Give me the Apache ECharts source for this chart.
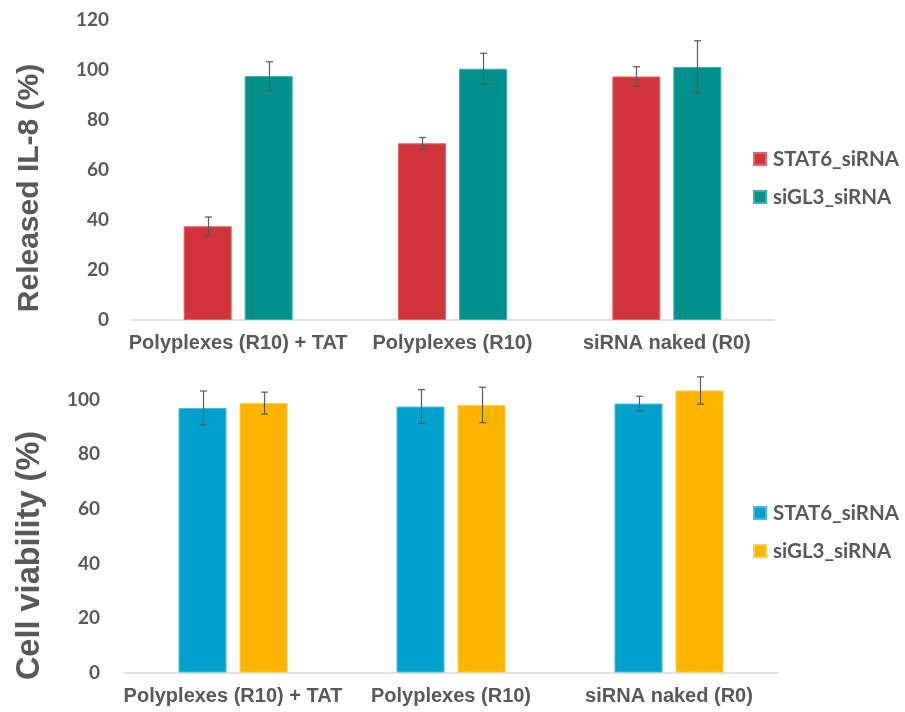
<!DOCTYPE html>
<html>
<head>
<meta charset="utf-8">
<script src="https://cdn.jsdelivr.net/npm/echarts@6/dist/echarts.min.js"></script>
<style>
  html, body { margin: 0; padding: 0; background: #ffffff; }
  #il8 { position: absolute; left: 0; top: 0; width: 905px; height: 362px; }
  #viab { position: absolute; left: 0; top: 362px; width: 905px; height: 350px; }
</style>
</head>
<body>
<div id="il8"></div>
<div id="viab"></div>
<script>
// Treatment groups shared by both panels
const categories = ['Polyplexes (R10) + TAT', 'Polyplexes (R10)', 'siRNA naked (R0)'];
const seriesNames = ['STAT6_siRNA', 'siGL3_siRNA'];

// Released IL-8 (%) — mean and error (±)
const il8Stat6 = [37.5, 70.7, 97.4];
const il8Stat6Err = [3.7, 2.3, 3.9];
const il8Sigl3 = [97.6, 100.5, 101.2];
const il8Sigl3Err = [5.7, 6.2, 10.5];

// Cell viability (%) — mean and error (±)
const viabStat6 = [97.0, 97.5, 98.6];
const viabStat6Err = [6.2, 6.2, 2.7];
const viabSigl3 = [98.8, 98.1, 103.4];
const viabSigl3Err = [4.0, 6.5, 5.0];

// Y-axis ticks
const il8Ticks = { min: 0, max: 120, interval: 20 };
const viabTicks = { min: 0, max: 110, interval: 20 };

const GREY = '#595959';
const BAR_W = 48;
const BAR_GAP_PX = 13;

function errorSeries(name, values, errs, side) {
  const offset = side * (BAR_W + BAR_GAP_PX) / 2;
  return {
    type: 'custom',
    name: name + ' error',
    silent: true,
    z: 5,
    data: values.map((v, i) => [i, v, errs[i]]),
    renderItem: function (params, api) {
      const i = api.value(0);
      const v = api.value(1);
      const e = api.value(2);
      const hi = api.coord([i, v + e]);
      const lo = api.coord([i, v - e]);
      const x = Math.round(hi[0] + offset) + 0.5;
      const cap = 3.5;
      const style = { stroke: GREY, lineWidth: 1.2 };
      return {
        type: 'group',
        children: [
          { type: 'line', shape: { x1: x, y1: hi[1], x2: x, y2: lo[1] }, style },
          { type: 'line', shape: { x1: x - cap, y1: hi[1], x2: x + cap, y2: hi[1] }, style },
          { type: 'line', shape: { x1: x - cap, y1: lo[1], x2: x + cap, y2: lo[1] }, style }
        ]
      };
    }
  };
}

function panel(opts) {
  return {
    animation: false,
    backgroundColor: '#ffffff',
    grid: opts.grid,
    legend: {
      orient: 'vertical',
      left: 748,
      top: opts.legendTop,
      itemWidth: 12,
      itemHeight: 12,
      itemGap: 17,
      icon: 'rect',
      data: seriesNames,
      textStyle: { fontFamily: 'Lato', fontWeight: 'bold', fontSize: 20.5, color: GREY, padding: [0, 0, 0, 2] }
    },
    xAxis: {
      type: 'category',
      data: categories,
      axisLine: { lineStyle: { color: '#d9d9d9', width: 1.5 } },
      axisTick: { show: false },
      axisLabel: { fontFamily: 'Liberation Sans', fontWeight: 'bold', fontSize: 20, color: GREY, margin: opts.catMargin, interval: 0 }
    },
    yAxis: {
      type: 'value',
      min: opts.ticks.min,
      max: opts.ticks.max,
      interval: opts.ticks.interval,
      name: opts.yName,
      nameLocation: 'middle',
      nameGap: opts.nameGap,
      nameTextStyle: { fontFamily: 'Liberation Sans', fontWeight: 'bold', fontSize: opts.nameSize, color: GREY, padding: opts.namePad },
      splitLine: { show: false },
      axisLine: { show: false },
      axisTick: { show: false },
      axisLabel: { fontFamily: 'Lato', fontWeight: 'bold', fontSize: 19, color: GREY, margin: opts.valMargin, showMaxLabel: opts.showMax }
    },
    series: [
      {
        type: 'bar', name: seriesNames[0], data: opts.a,
        barWidth: BAR_W, barGap: (BAR_GAP_PX / BAR_W * 100) + '%',
        itemStyle: { color: opts.colors[0], borderColor: opts.borders[0], borderWidth: 1 }
      },
      {
        type: 'bar', name: seriesNames[1], data: opts.b,
        barWidth: BAR_W,
        itemStyle: { color: opts.colors[1], borderColor: opts.borders[1], borderWidth: 1 }
      },
      errorSeries(seriesNames[0], opts.a, opts.aErr, -1),
      errorSeries(seriesNames[1], opts.b, opts.bErr, 1)
    ]
  };
}

const il8Chart = echarts.init(document.getElementById('il8'), null, { renderer: 'canvas' });
il8Chart.setOption(panel({
  grid: { left: 131, right: 131, top: 20, height: 300 },
  legendTop: 143.5,
  ticks: il8Ticks,
  showMax: true,
  yName: 'Released IL-8 (%)',
  nameSize: 30,
  nameGap: 86,
  namePad: [0, 36, 0, 0],
  catMargin: 13,
  valMargin: 22,
  a: il8Stat6, aErr: il8Stat6Err,
  b: il8Sigl3, bErr: il8Sigl3Err,
  colors: ['#d1343a', '#00918d'],
  borders: ['#e0676b', '#3cb0ab']
}));

const viabChart = echarts.init(document.getElementById('viab'), null, { renderer: 'canvas' });
viabChart.setOption(panel({
  grid: { left: 124, right: 127, top: 10.5, height: 300 },
  legendTop: 135.5,
  ticks: viabTicks,
  showMax: false,
  yName: 'Cell viability (%)',
  nameSize: 32.5,
  nameGap: 77,
  namePad: [0, 66, 0, 0],
  catMargin: 14,
  valMargin: 24,
  a: viabStat6, aErr: viabStat6Err,
  b: viabSigl3, bErr: viabSigl3Err,
  colors: ['#00a0cd', '#ffb400'],
  borders: ['#47bde0', '#ffcb4d']
}));
</script>
</body>
</html>
